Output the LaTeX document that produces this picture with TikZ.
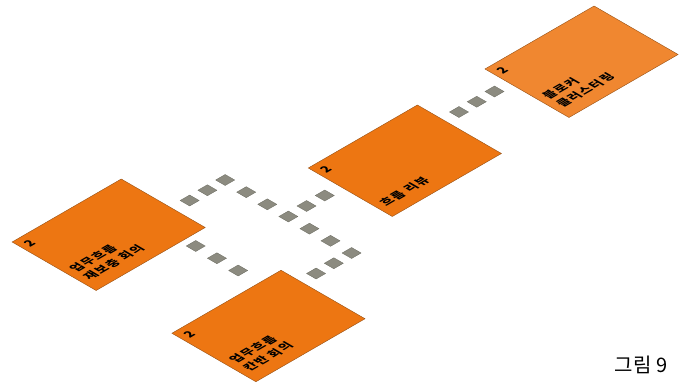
\documentclass[tikz,border=0pt]{standalone}
\usepackage{fontspec}
\newfontfamily\kr{Noto Sans CJK KR}
\newfontfamily\krsp{Noto Sans CJK KR}[LetterSpace=12]
\usepackage{tikz}
\usetikzlibrary{calc,positioning}

\definecolor{cardfill}{RGB}{237,118,18}
\definecolor{cardlight}{RGB}{240,135,48}
\definecolor{cardedge}{RGB}{150,80,20}
\definecolor{blkfill}{RGB}{140,139,128}
\definecolor{blkedge}{RGB}{105,105,95}

\tikzset{
  card/.style={draw=cardedge, line width=0.4pt, fill=cardfill, minimum width=126pt, minimum height=97pt, inner sep=0pt, transform shape},
  blk/.style={draw=blkedge, line width=0.3pt, fill=blkfill, minimum size=11pt, inner sep=0pt, transform shape},
  lvl/.style={font=\kr\bfseries\fontsize{12}{12}\selectfont, inner sep=0pt, transform shape},
  ttl/.style={font=\krsp\bfseries\fontsize{12}{16}\selectfont, align=left, inner sep=0pt, anchor=south west, transform shape}
}

\begin{document}
\begin{tikzpicture}[x=1pt,y=1pt]
  \useasboundingbox (0,0) rectangle (691,-382);
  % isometric floor: a runs up-right, b runs up-left
  \begin{scope}[cm={0.866,0.5,-0.866,0.5,(0,-382)}]
    % cards
    \node[card] (rep) at (210,84.5) {};
    \node[card] (kanban) at (211,-99) {};
    \node[card] (flow) at (455,-12.5) {};
    \node[card, fill=cardlight] (blocker) at (656,-15.5) {};
    \node[lvl] (rep-lvl) at (156,122) {2};
    \node[lvl] (kanban-lvl) at (157,-61.5) {2};
    \node[lvl] (flow-lvl) at (401,25) {2};
    \node[lvl] (blocker-lvl) at (602,22) {2};
    \node[ttl] (rep-ttl) at (153,48) {업무흐름\\재보충 회의};
    \node[ttl] (kanban-ttl) at (154,-135.5) {업무흐름\\칸반 회의};
    \node[ttl] (flow-ttl) at (398,-49) {흐름 리뷰};
    \node[ttl] (blocker-ttl) at (599,-52) {블로커\\클러스터링};
    % junctions of the tiles
    \coordinate (r1) at (291,72);
    \coordinate (j1) at (332,72);
    \coordinate (j2) at (332,-1);
    \coordinate (f1) at (374,-1);
    \coordinate (j3) at (332,-74);
    \coordinate (k1) at (291,-74);
    \coordinate (r2) at (249,23);
    \coordinate (k2) at (249,-26);
    \coordinate (f2) at (535,5);
    \coordinate (b1) at (576,5);
    % tiles
    \foreach \t in {0,0.5,1} \node[blk] at ($(r1)!\t!(j1)$) {};
    \foreach \t in {0.3333,0.6667,1} \node[blk] at ($(j1)!\t!(j2)$) {};
    \foreach \t in {0.5,1} \node[blk] at ($(j2)!\t!(f1)$) {};
    \foreach \t in {0.3333,0.6667,1} \node[blk] at ($(j2)!\t!(j3)$) {};
    \foreach \t in {0.5,1} \node[blk] at ($(j3)!\t!(k1)$) {};
    \foreach \t in {0,0.5,1} \node[blk] at ($(r2)!\t!(k2)$) {};
    \foreach \t in {0,0.5,1} \node[blk] at ($(f2)!\t!(b1)$) {};
  \end{scope}
  \node[font=\kr\fontsize{20}{20}\selectfont] (cap) at (641,-365) {그림 9};
\end{tikzpicture}
\end{document}
